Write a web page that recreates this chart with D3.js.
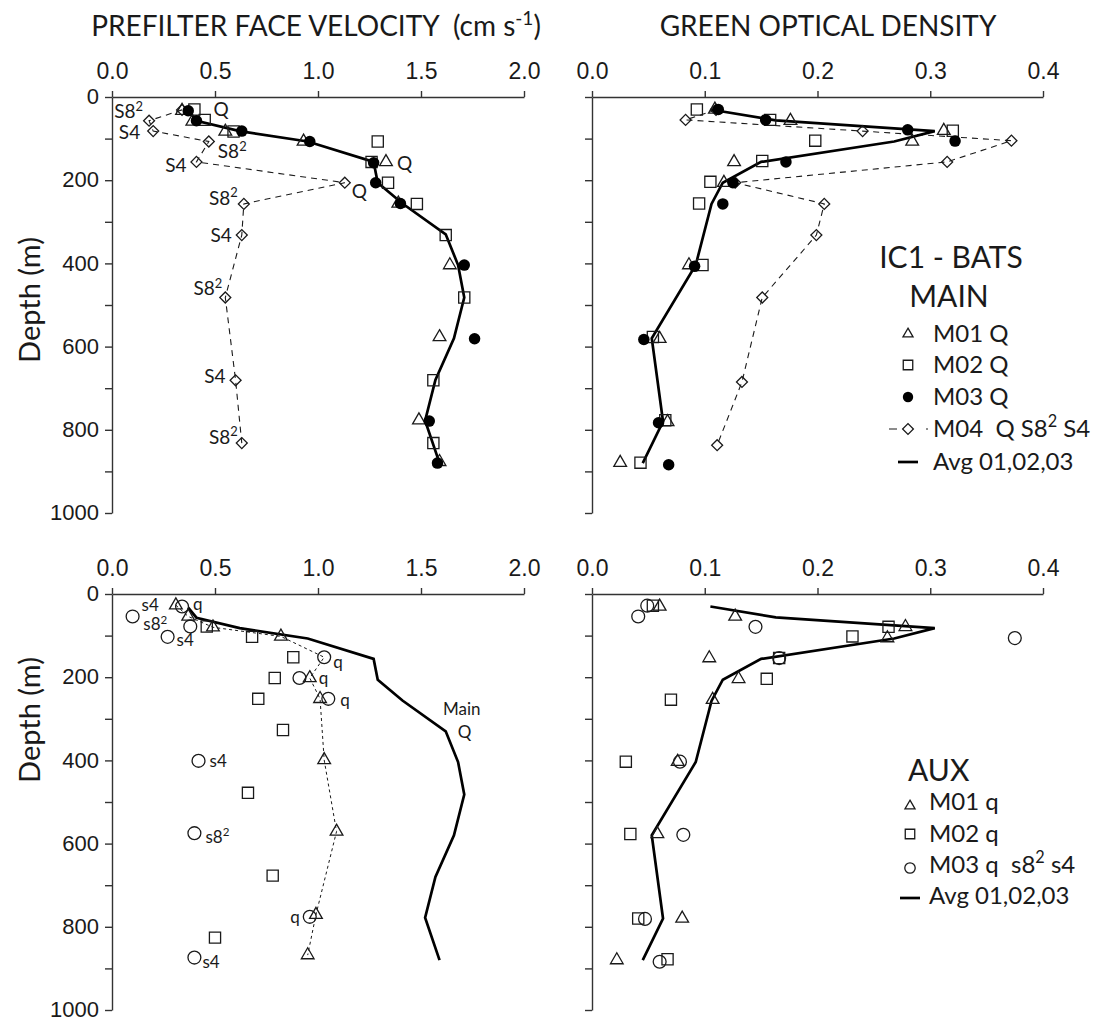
<!DOCTYPE html>
<html>
<head>
<meta charset="utf-8">
<script src="https://cdn.jsdelivr.net/npm/d3@7"></script>
<style>
  body { margin: 0; background: #fff; }
  svg { display: block; font-family: Lato, "Open Sans", sans-serif; }
  text { white-space: pre; }
</style>
</head>
<body>
<svg id="chart" width="1102" height="1021"></svg>
<script>
// values, each point is [value, depth (m)]

// MAIN, prefilter face velocity (cm s-1)
const mainVelM01 = [[0.34, 33], [0.39, 59], [0.55, 83], [0.93, 107], [1.33, 156], [1.39, 256], [1.64, 404], [1.59, 577], [1.49, 777], [1.59, 877]];
const mainVelM02 = [[0.40, 30], [0.45, 55], [0.59, 83], [1.29, 107], [1.26, 156], [1.34, 206], [1.48, 257], [1.62, 332], [1.71, 482], [1.56, 681], [1.56, 832]];
const mainVelM03 = [[0.37, 33], [0.41, 57], [0.63, 82], [0.96, 107], [1.27, 158], [1.28, 206], [1.40, 256], [1.71, 404], [1.76, 581], [1.54, 779], [1.58, 880]];
const mainVelM04 = [[0.34, 31], [0.18, 57], [0.20, 82], [0.47, 107], [0.41, 156], [1.13, 206], [0.64, 257], [0.63, 332], [0.55, 482], [0.60, 681], [0.63, 832]];
const mainVelAvg = [[0.37, 33], [0.41, 57], [0.62, 82], [0.95, 107], [1.27, 156], [1.29, 206], [1.41, 256], [1.62, 330], [1.68, 404], [1.71, 482], [1.66, 580], [1.57, 680], [1.52, 778], [1.59, 880]];

// MAIN, green optical density
const mainOdM01 = [[0.109, 30], [0.176, 57], [0.312, 81], [0.284, 107], [0.126, 156], [0.117, 206], [0.086, 404], [0.060, 581], [0.067, 781], [0.025, 879]];
const mainOdM02 = [[0.093, 30], [0.158, 55], [0.320, 81], [0.198, 105], [0.151, 154], [0.105, 204], [0.095, 256], [0.098, 404], [0.054, 577], [0.065, 777], [0.043, 879]];
const mainOdM03 = [[0.112, 30], [0.154, 55], [0.280, 79], [0.322, 106], [0.172, 156], [0.125, 206], [0.116, 257], [0.091, 407], [0.046, 583], [0.059, 783], [0.068, 884]];
const mainOdM04 = [[0.110, 31], [0.083, 55], [0.240, 82], [0.372, 105], [0.315, 156], [0.127, 206], [0.206, 257], [0.199, 332], [0.151, 482], [0.133, 685], [0.111, 837]];
const mainOdAvg = [[0.105, 30], [0.163, 56], [0.304, 82], [0.268, 107], [0.150, 156], [0.116, 206], [0.106, 257], [0.092, 404], [0.053, 580], [0.063, 780], [0.045, 880]];

// AUX, prefilter face velocity
const auxVelM01 = [[0.31, 27], [0.37, 54], [0.49, 80], [0.82, 102], [0.96, 202], [1.01, 252], [1.03, 399], [1.09, 571], [0.99, 771], [0.95, 868]];
const auxVelM02 = [[0.46, 78], [0.68, 103], [0.88, 152], [0.79, 202], [0.71, 252], [0.83, 327], [0.66, 478], [0.78, 677], [0.50, 826]];
const auxVelM03 = [[0.34, 30], [0.10, 54], [0.38, 78], [0.27, 103], [1.03, 152], [0.91, 202], [1.05, 252], [0.42, 401], [0.40, 575], [0.96, 776], [0.40, 874]];
const auxVelDash = [[0.31, 27], [0.37, 54], [0.49, 80], [0.82, 102], [1.03, 152], [0.96, 202], [1.01, 252], [1.03, 399], [1.09, 571], [0.99, 771], [0.95, 868]];

// AUX, green optical density
const auxOdM01 = [[0.060, 30], [0.127, 54], [0.278, 79], [0.262, 106], [0.104, 154], [0.130, 204], [0.107, 254], [0.076, 403], [0.058, 577], [0.080, 780], [0.022, 880]];
const auxOdM02 = [[0.054, 28], [0.263, 79], [0.231, 102], [0.166, 154], [0.155, 204], [0.070, 254], [0.030, 403], [0.034, 577], [0.041, 780], [0.067, 878]];
const auxOdM03 = [[0.049, 28], [0.041, 54], [0.145, 79], [0.375, 106], [0.166, 154], [0.078, 403], [0.081, 579], [0.047, 781], [0.060, 884]];

const velTicks = [0, 0.5, 1.0, 1.5, 2.0];
const odTicks = [0, 0.1, 0.2, 0.3, 0.4];
const depthTicks = d3.range(0, 1001, 100);

// sample labels: text, value, depth, dx, dy, anchor
const mainVelNotes = [
  ['Q', 0.40, 30, 19, 0, 'start'],
  ['S8^{2}', 0.18, 57, -6, -9, 'end'],
  ['S4', 0.20, 82, -13, 1, 'end'],
  ['S8^{2}', 0.47, 107, 9, 10, 'start'],
  ['S4', 0.41, 156, -10, 3, 'end'],
  ['Q', 1.33, 156, 11, 1, 'start'],
  ['Q', 1.13, 206, 7, 9, 'start'],
  ['S8^{2}', 0.64, 257, -6, -6, 'end'],
  ['S4', 0.63, 332, -10, 0, 'end'],
  ['S8^{2}', 0.55, 482, -3, -9, 'end'],
  ['S4', 0.60, 681, -10, -4, 'end'],
  ['S8^{2}', 0.63, 832, -4, -6, 'end']
];
const auxVelNotes = [
  ['s4', 0.10, 54, 9, -11, 'start'],
  ['q', 0.34, 30, 11, -2, 'start'],
  ['s8^{2}', 0.38, 78, -23, -2, 'end'],
  ['s4', 0.27, 103, 9, 3, 'start'],
  ['q', 1.03, 152, 9, 5, 'start'],
  ['q', 0.96, 202, 9, 0, 'start'],
  ['q', 1.05, 252, 12, 1, 'start'],
  ['s4', 0.42, 401, 11, 0, 'start'],
  ['s8^{2}', 0.40, 575, 11, 4, 'start'],
  ['q', 0.96, 776, -10, 0, 'end'],
  ['s4', 0.40, 874, 8, 4, 'start'],
  ['Main', 1.62, 330, 16, -22, 'middle'],
  ['Q', 1.62, 330, 12, 1, 'start']
];

const svg = d3.select('#chart');
const ink = '#1a1a1a';

const sym = {
  tri: d3.symbol().type(d3.symbolTriangle).size(70)(),
  square: d3.symbol().type(d3.symbolSquare).size(125)(),
  diamond: d3.symbol().type(d3.symbolSquare).size(60)(),
  circle: d3.symbol().type(d3.symbolCircle).size(130)()
};
const legendSym = {
  tri: d3.symbol().type(d3.symbolTriangle).size(44)(),
  square: d3.symbol().type(d3.symbolSquare).size(90)(),
  diamond: d3.symbol().type(d3.symbolSquare).size(58)(),
  circle: d3.symbol().type(d3.symbolCircle).size(85)()
};

// writes "S8^{2}" style strings with raised parts
function rich(t, str, fs) {
  const parts = str.split(/(\^\{[^}]*\})/).filter(s => s.length);
  let raised = false;
  parts.forEach(p => {
    const sup = p.startsWith('^{');
    const ts = t.append('tspan').text(sup ? p.slice(2, -1) : p);
    if (sup) {
      ts.attr('font-size', fs * 0.68).attr('dy', -fs * 0.4);
      raised = true;
    } else if (raised) {
      ts.attr('dy', fs * 0.4);
      raised = false;
    }
  });
}

function panel(p) {
  const x = d3.scaleLinear().domain(p.domain).range([p.left, p.right]);
  const y = d3.scaleLinear().domain([0, 1000]).range([p.top, p.top + 416]);
  const g = svg.append('g');

  const xAxis = g.append('g')
    .attr('transform', `translate(0,${y(0)})`)
    .call(d3.axisTop(x).tickValues(p.ticks).tickFormat(d3.format('.1f'))
      .tickSize(6).tickSizeOuter(0).tickPadding(12));
  const yAxis = g.append('g')
    .attr('transform', `translate(${x(0)},0)`)
    .call(d3.axisLeft(y).tickValues(depthTicks)
      .tickFormat(d => p.depthLabels && d % 200 === 0 ? d : '')
      .tickSize(7).tickSizeOuter(0).tickPadding(6));
  [xAxis, yAxis].forEach(a => {
    a.selectAll('path, line').attr('stroke', '#333').attr('stroke-width', 1.4);
    a.selectAll('text').attr('font-size', 23).attr('fill', ink);
  });
  yAxis.selectAll('text').attr('font-size', 22).attr('dy', '0.3em');

  const line = d3.line().x(d => x(d[0])).y(d => y(d[1]));
  if (p.dash) {
    g.append('path').datum(p.dash.data).attr('d', line)
      .attr('fill', 'none').attr('stroke', ink)
      .attr('stroke-width', p.dash.width).attr('stroke-dasharray', p.dash.pattern);
  }
  g.append('path').datum(p.avg).attr('d', line)
    .attr('fill', 'none').attr('stroke', '#000').attr('stroke-width', 2.7);

  p.series.forEach(s => {
    const pts = g.append('g').selectAll('path').data(s.data).join('path')
      .attr('transform', d => `translate(${x(d[0])},${y(d[1])})${s.shape === 'diamond' ? ' rotate(45)' : ''}`);
    if (s.shape === 'dot') {
      pts.attr('d', d3.symbol().type(d3.symbolCircle).size(104)()).attr('fill', '#000');
    } else {
      pts.attr('d', sym[s.shape]).attr('fill', 'none').attr('stroke', ink).attr('stroke-width', 1.3);
    }
  });

  (p.notes || []).forEach(n => {
    const t = g.append('text')
      .attr('x', x(n[1]) + n[3]).attr('y', y(n[2]) + n[4]).attr('dy', '0.35em')
      .attr('text-anchor', n[5]).attr('font-size', p.noteSize).attr('fill', ink);
    rich(t, n[0], p.noteSize);
  });
}

panel({
  left: 112, right: 524, top: 97, domain: [0, 2], ticks: velTicks, depthLabels: true,
  avg: mainVelAvg,
  dash: { data: mainVelM04, width: 1.1, pattern: '6,5' },
  series: [
    { data: mainVelM04, shape: 'diamond' },
    { data: mainVelM02, shape: 'square' },
    { data: mainVelM01, shape: 'tri' },
    { data: mainVelM03, shape: 'dot' }
  ],
  notes: mainVelNotes, noteSize: 19
});

panel({
  left: 592, right: 1043, top: 97, domain: [0, 0.4], ticks: odTicks, depthLabels: false,
  avg: mainOdAvg,
  dash: { data: mainOdM04, width: 1.1, pattern: '6,5' },
  series: [
    { data: mainOdM04, shape: 'diamond' },
    { data: mainOdM02, shape: 'square' },
    { data: mainOdM01, shape: 'tri' },
    { data: mainOdM03, shape: 'dot' }
  ]
});

panel({
  left: 112, right: 524, top: 594, domain: [0, 2], ticks: velTicks, depthLabels: true,
  avg: mainVelAvg,
  dash: { data: auxVelDash, width: 1, pattern: '3,3' },
  series: [
    { data: auxVelM02, shape: 'square' },
    { data: auxVelM01, shape: 'tri' },
    { data: auxVelM03, shape: 'circle' }
  ],
  notes: auxVelNotes, noteSize: 17
});

panel({
  left: 592, right: 1043, top: 594, domain: [0, 0.4], ticks: odTicks, depthLabels: false,
  avg: mainOdAvg,
  series: [
    { data: auxOdM02, shape: 'square' },
    { data: auxOdM01, shape: 'tri' },
    { data: auxOdM03, shape: 'circle' }
  ]
});

// titles
const title1 = svg.append('text').attr('x', 316).attr('y', 36).attr('text-anchor', 'middle')
  .attr('font-size', 28).attr('fill', ink);
rich(title1, 'PREFILTER FACE VELOCITY  (cm s^{-1})', 28);
svg.append('text').attr('x', 828).attr('y', 36).attr('text-anchor', 'middle')
  .attr('font-size', 28).attr('fill', ink).text('GREEN OPTICAL DENSITY');

[300, 720].forEach(cy => {
  svg.append('text').attr('transform', `translate(40,${cy}) rotate(-90)`)
    .attr('text-anchor', 'middle').attr('font-size', 29).attr('fill', ink).text('Depth (m)');
});

// legends
function legend(rows, sx, tx, fs) {
  rows.forEach(r => {
    if (r.shape === 'line') {
      svg.append('line').attr('x1', sx - 10).attr('x2', sx + 10).attr('y1', r.sy).attr('y2', r.sy)
        .attr('stroke', '#000').attr('stroke-width', 2.7);
    } else if (r.shape === 'dot') {
      svg.append('circle').attr('cx', sx).attr('cy', r.sy).attr('r', 5.2).attr('fill', '#000');
    } else {
      if (r.dashed) {
        svg.append('line').attr('x1', sx - 19).attr('x2', sx + 20).attr('y1', r.sy).attr('y2', r.sy)
          .attr('stroke', ink).attr('stroke-width', 1.1).attr('stroke-dasharray', '8,29,2');
      }
      svg.append('path').attr('d', legendSym[r.shape])
        .attr('transform', `translate(${sx},${r.sy})${r.shape === 'diamond' ? ' rotate(45)' : ''}`)
        .attr('fill', 'none').attr('stroke', ink).attr('stroke-width', 1.3);
    }
    const t = svg.append('text').attr('x', tx).attr('y', r.ty).attr('font-size', fs).attr('fill', ink);
    rich(t, r.label, fs);
  });
}

svg.append('text').attr('x', 951).attr('y', 268).attr('text-anchor', 'middle')
  .attr('font-size', 30).attr('fill', ink).text('IC1 - BATS');
svg.append('text').attr('x', 949).attr('y', 307).attr('text-anchor', 'middle')
  .attr('font-size', 30).attr('fill', ink).text('MAIN');
legend([
  { shape: 'tri', label: 'M01 Q', sy: 334, ty: 342 },
  { shape: 'square', label: 'M02 Q', sy: 365, ty: 373 },
  { shape: 'dot', label: 'M03 Q', sy: 397, ty: 405 },
  { shape: 'diamond', dashed: true, label: 'M04  Q S8^{2} S4', sy: 429, ty: 437 },
  { shape: 'line', label: 'Avg 01,02,03', sy: 462, ty: 470 }
], 908, 933, 24);

svg.append('text').attr('x', 908).attr('y', 781)
  .attr('font-size', 30).attr('fill', ink).text('AUX');
legend([
  { shape: 'tri', label: 'M01 q', sy: 806, ty: 810 },
  { shape: 'square', label: 'M02 q', sy: 834, ty: 842 },
  { shape: 'circle', label: 'M03 q  s8^{2} s4', sy: 868, ty: 873 },
  { shape: 'line', label: 'Avg 01,02,03', sy: 898, ty: 904 }
], 910, 929, 24);
</script>
</body>
</html>
